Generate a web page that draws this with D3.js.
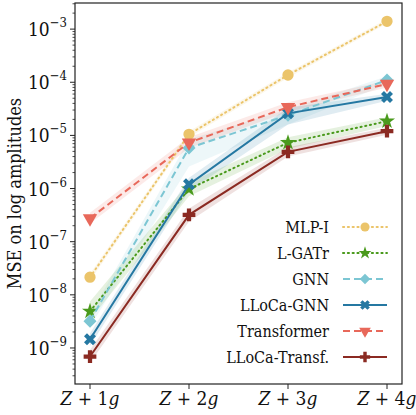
<!DOCTYPE html>
<html>
<head>
<meta charset="utf-8">
<script src="https://cdn.jsdelivr.net/npm/d3@7"></script>
<style>
  body { margin: 0; background: #fff; }
  svg text { fill: #111; }
</style>
</head>
<body>
<div id="chart"></div>
<script>
// categories on the x axis
var categories = ["Z+1g", "Z+2g", "Z+3g", "Z+4g"];

// MSE values
var mlpI        = [2.15e-8, 1.05e-5, 1.37e-4, 1.4e-3];
var lgatr       = [4.9e-9, 9.8e-7, 7.3e-6, 1.85e-5];
var gnn         = [3.2e-9, 5.8e-6, 2.4e-5, 1.1e-4];
var llocaGnn    = [1.46e-9, 1.2e-6, 2.6e-5, 5.3e-5];
var transformer = [2.75e-7, 7.3e-6, 3.4e-5, 9.3e-5];
var llocaTransf = [6.9e-10, 3.2e-7, 4.9e-6, 1.2e-5];

// shaded bands (lower / upper)
var mlpILo = [1.85e-8, 9.2e-6, 1.22e-4, 1.27e-3],  mlpIHi = [2.5e-8, 1.2e-5, 1.53e-4, 1.55e-3];
var lgatrLo = [3.4e-9, 7.2e-7, 5.6e-6, 1.5e-5],    lgatrHi = [7.5e-9, 1.3e-6, 9.2e-6, 2.2e-5];
var gnnLo = [2.5e-9, 2.6e-6, 1.6e-5, 9.2e-5],      gnnHi = [4.2e-9, 8.5e-6, 3.1e-5, 1.3e-4];
var llocaGnnLo = [1.1e-9, 9e-7, 1.6e-5, 4.5e-5],   llocaGnnHi = [1.9e-9, 1.6e-6, 3.3e-5, 6.1e-5];
var transformerLo = [2.2e-7, 5.8e-6, 2.8e-5, 8e-5], transformerHi = [3.5e-7, 9.2e-6, 4.2e-5, 1.07e-4];
var llocaTransfLo = [5.2e-10, 2.4e-7, 4e-6, 1.03e-5], llocaTransfHi = [9.2e-10, 4.2e-7, 6e-6, 1.4e-5];

var seriesNames = ["MLP-I", "L-GATr", "GNN", "LLoCa-GNN", "Transformer", "LLoCa-Transf."];

var yTicks = [1e-9, 1e-8, 1e-7, 1e-6, 1e-5, 1e-4, 1e-3];

var series = [
  {name: seriesNames[0], v: mlpI, lo: mlpILo, hi: mlpIHi, color: "#ebc46a", dash: "1.2,3.6", sym: d3.symbolCircle, size: 100, rot: 0},
  {name: seriesNames[1], v: lgatr, lo: lgatrLo, hi: lgatrHi, color: "#4a9a1c", dash: "1.2,3.6", sym: d3.symbolStar, size: 80, rot: 0},
  {name: seriesNames[2], v: gnn, lo: gnnLo, hi: gnnHi, color: "#7cc6d3", dash: "7,4", sym: d3.symbolSquare, size: 85, rot: 45},
  {name: seriesNames[3], v: llocaGnn, lo: llocaGnnLo, hi: llocaGnnHi, color: "#2578a2", dash: null, sym: d3.symbolCross, size: 90, rot: 45},
  {name: seriesNames[4], v: transformer, lo: transformerLo, hi: transformerHi, color: "#e8685a", dash: "7,4", sym: d3.symbolTriangle, size: 90, rot: 180},
  {name: seriesNames[5], v: llocaTransf, lo: llocaTransfLo, hi: llocaTransfHi, color: "#8b2a22", dash: null, sym: d3.symbolCross, size: 90, rot: 0}
];

var W = 416, H = 415;
var pLeft = 75, pRight = 402, pTop = 3, pBottom = 384;
var serif = "DejaVu Serif Condensed";

var svg = d3.select("#chart").append("svg").attr("width", W).attr("height", H);

var x = d3.scaleLinear().domain([0, categories.length - 1]).range([90, 387]);
var y = d3.scaleLog().domain([2.1e-10, 3.1e-3]).range([pBottom, pTop]);

// bands
series.forEach(function (s) {
  var area = d3.area()
    .x(function (d, i) { return x(i); })
    .y0(function (d, i) { return y(s.lo[i]); })
    .y1(function (d, i) { return y(s.hi[i]); });
  svg.append("path").datum(s.v).attr("d", area)
    .attr("fill", s.color).attr("fill-opacity", 0.14);
});

// lines + markers
series.forEach(function (s) {
  var line = d3.line().x(function (d, i) { return x(i); }).y(function (d) { return y(d); });
  svg.append("path").datum(s.v).attr("d", line)
    .attr("fill", "none").attr("stroke", s.color).attr("stroke-width", 2)
    .attr("stroke-dasharray", s.dash).attr("stroke-linecap", s.dash && s.dash.startsWith("1.2") ? "round" : "butt");
  svg.append("g").selectAll("path").data(s.v).enter().append("path")
    .attr("d", d3.symbol().type(s.sym).size(s.size))
    .attr("transform", function (d, i) { return "translate(" + x(i) + "," + y(d) + ") rotate(" + s.rot + ")"; })
    .attr("fill", s.color);
});

// frame
svg.append("rect").attr("x", pLeft).attr("y", pTop).attr("width", pRight - pLeft).attr("height", pBottom - pTop)
  .attr("fill", "none").attr("stroke", "#222").attr("stroke-width", 1.2);

// y axis ticks
var minor = [];
for (var e = -10; e <= -3; e++) for (var m = 2; m <= 9; m++) {
  var v = m * Math.pow(10, e);
  if (v > 2.1e-10 && v < 3.1e-3) minor.push(v);
}
svg.append("g").selectAll("line").data(minor).enter().append("line")
  .attr("x1", pLeft - 2.5).attr("x2", pLeft).attr("y1", function (d) { return y(d); }).attr("y2", function (d) { return y(d); })
  .attr("stroke", "#222").attr("stroke-width", 0.8);
svg.append("g").selectAll("line").data(yTicks).enter().append("line")
  .attr("x1", pLeft - 5).attr("x2", pLeft).attr("y1", function (d) { return y(d); }).attr("y2", function (d) { return y(d); })
  .attr("stroke", "#222").attr("stroke-width", 1);
var yl = svg.append("g").selectAll("text").data(yTicks).enter().append("text")
  .attr("x", pLeft - 8).attr("y", function (d) { return y(d) + 7; })
  .attr("text-anchor", "end").style("font-family", serif).style("font-size", "19px");
yl.append("tspan").text("10");
yl.append("tspan").attr("dy", -9).style("font-size", "13px")
  .text(function (d) { return "\u2212" + Math.round(-Math.log10(d)); });

// x axis ticks
svg.append("g").selectAll("line").data(categories).enter().append("line")
  .attr("x1", function (d, i) { return x(i); }).attr("x2", function (d, i) { return x(i); })
  .attr("y1", pBottom).attr("y2", pBottom + 5).attr("stroke", "#222").attr("stroke-width", 1);
var xl = svg.append("g").selectAll("text").data(categories).enter().append("text")
  .attr("x", function (d, i) { return x(i); }).attr("y", 405)
  .attr("text-anchor", "middle").style("font-family", serif).style("font-size", "19px");
xl.append("tspan").style("font-style", "italic").text("Z");
xl.append("tspan").text(function (d) { return " + " + d.charAt(2); });
xl.append("tspan").style("font-style", "italic").text("g");

// y label
svg.append("text").attr("transform", "translate(21," + ((pTop + pBottom) / 2) + ") rotate(-90)")
  .attr("text-anchor", "middle").style("font-family", serif).style("font-size", "18px").text("MSE on log amplitudes");

// legend
var lg = svg.append("g");
series.forEach(function (s, i) {
  var ly = 227 + i * 26;
  lg.append("text").attr("x", 329).attr("y", ly + 6).attr("text-anchor", "end")
    .style("font-family", serif).style("font-size", "16px").text(s.name);
  lg.append("line").attr("x1", 343).attr("x2", 387).attr("y1", ly).attr("y2", ly)
    .attr("stroke", s.color).attr("stroke-width", 2).attr("stroke-dasharray", s.dash)
    .attr("stroke-linecap", s.dash && s.dash.startsWith("1.2") ? "round" : "butt");
  lg.append("path").attr("d", d3.symbol().type(s.sym).size(s.size * 0.65))
    .attr("transform", "translate(365," + ly + ") rotate(" + s.rot + ")").attr("fill", s.color);
});
</script>
</body>
</html>
